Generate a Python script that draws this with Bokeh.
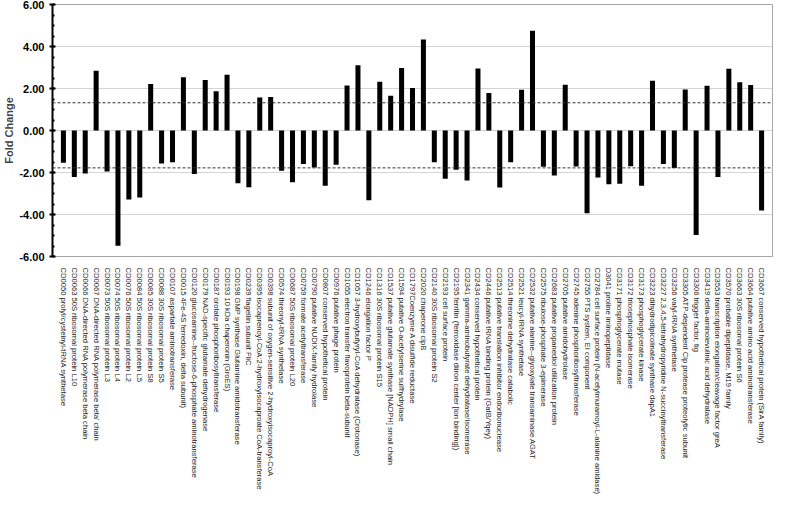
import math
from bokeh.plotting import figure
from bokeh.models import (ColumnDataSource, FixedTicker, NumeralTickFormatter, Span,
                          Range1d)
from bokeh.embed import file_html
from bokeh.resources import INLINE

categories = [
    "CD0050 prolyl/cysteinyl-tRNA synthetase",
    "CD0063 50S ribosomal protein L10",
    "CD0066 DNA-directed RNA polymerase beta chain",
    "CD0067 DNA-directed RNA polymerase beta' chain",
    "CD0073 50S ribosomal protein L3",
    "CD0074 50S ribosomal protein L4",
    "CD0076 50S ribosomal protein L2",
    "CD0084 50S ribosomal protein L5",
    "CD0085 30S ribosomal protein S8",
    "CD0088 30S ribosomal protein S5",
    "CD0107 aspartate aminotransferase",
    "CD0015 4Fe-4S ferredoxin, delta subunit)",
    "CD0120 glucosamine--fructose-6-phosphate aminotransferase",
    "CD0179 NAD-specific glutamate dehydrogenase",
    "CD0187 orotate phosphoribosyltransferase",
    "CD0193 10 kDa chaperonin (GroES)",
    "CD0198 GMP synthase Glutamine amidotransferase",
    "CD0239 flagellin subunit FliC",
    "CD0395 isocaprenoyl-CoA:2-hydroxyisocaproate CoA-transferase",
    "CD0398 subunit of oxygen-sensitive 2-hydroxyisocaproyl-CoA",
    "CD0574 threonyl-tRNA synthetase",
    "CD0687 50S ribosomal protein L20",
    "CD0759 formate acetyltransferase",
    "CD0790 putative NUDIX-family hydrolase",
    "CD0807 conserved hypothetical protein",
    "CD0976 putative phage protein",
    "CD1055 electron transfer flavoprotein beta-subunit",
    "CD1057 3-hydroxybutyryl-CoA dehydratase (Crotonase)",
    "CD1246 elongation factor P",
    "CD1316 30S ribosomal protein S15",
    "CD1537 putative glutamate synthase [NADPH] small chain",
    "CD1594 putative O-acetylserine sulfhydrylase",
    "CD1797Coenzyme A disulfide reductase",
    "CD2020 chaperone clpB",
    "CD2140 30S ribosomal protein S2",
    "CD2193 cell surface protein",
    "CD2195 ferritin (ferroxidase diiron center [ion binding])",
    "CD2341 gamma-aminobutyrate dehydratase/isomerase",
    "CD2434 conserved hypothetical protein",
    "CD2446 putative tRNA binding protein (GatB/Yqey)",
    "CD2513 putative translation inhibitor endoribonuclease",
    "CD2514 threonine dehydratase catabolic",
    "CD2521 leucyl-tRNA synthetase",
    "CD2532 putative alanine--glyoxylate transaminase AGAT",
    "CD2575 ribulose-phosphate 3-epimerase",
    "CD2683 putative propanediol utilization protein",
    "CD2705 putative amidohydrolase",
    "CD2745 adenine phosphoribosyltransferase",
    "CD2755 PTS system, EI component",
    "CD2784 cell surface protein (N-acetylmuramoyl-L-alanine amidase)",
    "D3041 proline iminopeptidase",
    "CD3171 phosphoglycerate mutase",
    "CD3172 triosephosphate isomerase",
    "CD3173 phosphoglycerate kinase",
    "CD3223 dihydrodipicolinate synthase dapA1",
    "CD3227 2,3,4,5-tetrahydropyridine N-succinyltransferase",
    "CD3256 valyl-tRNA synthetase",
    "CD3305 ATP-dependent Clp protease proteolytic subunit",
    "CD3306 trigger factor, tig",
    "CD3419 delta-aminolevulinic acid dehydratase",
    "CD3553 transcription elongation/cleavage factor greA",
    "CD3570 probable dipeptidase, M19 family",
    "CD3663 30S ribosomal protein S6",
    "CD3664 putative amino acid aminotransferase",
    "CD3667 conserved hypothetical protein (SirA family)",
]

fold_change = [
    -1.54, -2.21, -2.05, 2.84, -1.95, -5.49, -3.29, -3.19, 2.21, -1.57,
    -1.51, 2.54, -2.07, 2.40, 1.87, 2.65, -2.51, -2.70, 1.57, 1.60,
    -1.92, -2.46, -1.60, -1.76, -2.63, -1.63, 2.14, 3.11, -3.32, 2.32,
    1.65, 2.98, 2.02, 4.33, -1.51, -2.30, -1.87, -2.38, 2.95, 1.79,
    -2.71, -1.51, 1.94, 4.75, -1.73, -2.14, 2.18, -1.71, -3.94, -2.24,
    -2.56, -2.54, -1.70, -2.63, 2.37, -1.60, -1.79, 1.95, -4.98, 2.13,
    -2.21, 2.94, 2.30, 2.17, -3.81,
]

thresholds = [1.32, -1.78]
y_ticks = [-6, -4, -2, 0, 2, 4, 6]

positions = list(range(1, len(categories) + 1))
source = ColumnDataSource(data=dict(x=positions, y=fold_change, name=categories))

p = figure(width=773, height=497, output_backend="svg", toolbar_location=None,
           x_range=Range1d(0, len(categories) + 1), y_range=Range1d(-6, 6),
           min_border_left=40, min_border_right=1, min_border_top=4,
           min_border_bottom=0)

p.vbar(x="x", top="y", bottom=0, width=0.46, source=source,
       fill_color="black", line_color=None)

for t in thresholds:
    p.add_layout(Span(location=t, dimension="width", line_color="#333333",
                      line_width=1, line_dash="3 2"))

# y axis
p.yaxis.ticker = FixedTicker(ticks=y_ticks,
                             minor_ticks=[v / 2 for v in range(-12, 13)])
p.yaxis.formatter = NumeralTickFormatter(format="0.00")
p.yaxis.axis_label = "Fold Change"
p.yaxis.axis_label_text_font = "Liberation Sans"
p.yaxis.axis_label_text_font_style = "bold"
p.yaxis.axis_label_text_font_size = "11px"
p.yaxis.axis_label_standoff = 1
p.yaxis.major_label_text_font = "Liberation Sans"
p.yaxis.major_label_text_font_style = "bold"
p.yaxis.major_label_text_font_size = "11px"
p.yaxis.major_label_text_color = "black"
p.yaxis.major_label_standoff = 5
p.yaxis.axis_line_color = "black"
p.yaxis.axis_line_width = 2
p.yaxis.major_tick_line_color = "black"
p.yaxis.major_tick_line_width = 2
p.yaxis.major_tick_in = 3
p.yaxis.major_tick_out = 3
p.yaxis.minor_tick_line_color = "black"
p.yaxis.minor_tick_line_width = 2
p.yaxis.minor_tick_in = 2
p.yaxis.minor_tick_out = 0

# x axis
p.xaxis.ticker = FixedTicker(ticks=positions)
p.xaxis.major_label_overrides = {i: c for i, c in zip(positions, categories)}
p.xaxis.major_label_orientation = -math.pi / 2
p.xaxis.major_label_text_font = "Liberation Sans"
p.xaxis.major_label_text_font_size = "7.6px"
p.xaxis.major_label_text_color = "#222222"
p.xaxis.major_label_standoff = 5
p.xaxis.axis_line_color = "#a6a6a6"
p.xaxis.axis_line_width = 1
p.xaxis.major_tick_line_color = None
p.xaxis.minor_tick_line_color = None

p.xgrid.grid_line_color = None
p.ygrid.ticker = FixedTicker(ticks=y_ticks)
p.ygrid.grid_line_color = "#d4d4d4"
p.ygrid.grid_line_width = 1

p.outline_line_color = "#a6a6a6"
p.outline_line_width = 1
p.background_fill_color = "white"
p.border_fill_color = "white"

open("out.html", "w").write(file_html(p, INLINE))
